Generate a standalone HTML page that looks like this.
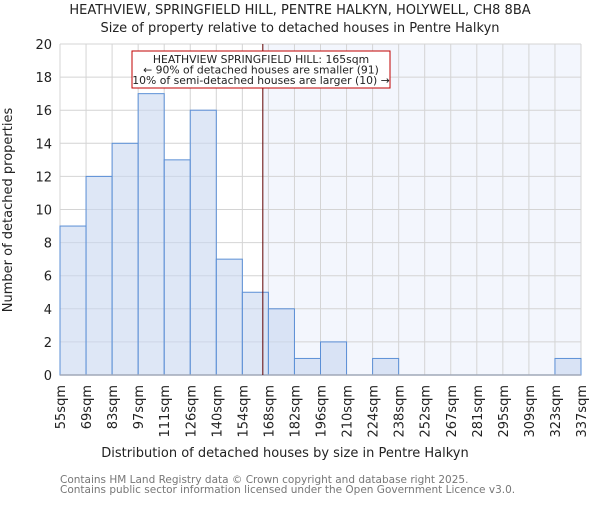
<!DOCTYPE html>
<html><head><meta charset="utf-8"><style>
body{margin:0;background:#fff}
svg text{font-family:"DejaVu Sans","Liberation Sans",sans-serif;fill:#222}
</style></head><body>
<svg id="c" width="600" height="500" xmlns="http://www.w3.org/2000/svg">
<text x="300" y="14" text-anchor="middle" font-size="13">HEATHVIEW, SPRINGFIELD HILL, PENTRE HALKYN, HOLYWELL, CH8 8BA</text>
<text x="300" y="32" text-anchor="middle" font-size="13">Size of property relative to detached houses in Pentre Halkyn</text>
<g id="plot"></g>
<text x="285" y="457" text-anchor="middle" font-size="13">Distribution of detached houses by size in Pentre Halkyn</text>
<text transform="translate(12,210) rotate(-90)" text-anchor="middle" font-size="13">Number of detached properties</text>
<text x="60" y="483" font-size="10.5" style="fill:#777">Contains HM Land Registry data © Crown copyright and database right 2025.</text>
<text x="60" y="493" font-size="10.5" style="fill:#777">Contains public sector information licensed under the Open Government Licence v3.0.</text>
</svg>
<script>
const binLabels=["55sqm","69sqm","83sqm","97sqm","111sqm","126sqm","140sqm","154sqm","168sqm","182sqm","196sqm","210sqm","224sqm","238sqm","252sqm","267sqm","281sqm","295sqm","309sqm","323sqm","337sqm"];
const binEdges=[55,69,83,97,111,126,140,154,168,182,196,210,224,238,252,267,281,295,309,323,337];
const counts=[9,12,14,17,13,16,7,5,4,1,2,0,1,0,0,0,0,0,0,1];
const yTicks=[0,2,4,6,8,10,12,14,16,18,20];
const marker=165;
const X0=60,X1=581,Y0=375,Y1=44,YMAX=20;
const NS="http://www.w3.org/2000/svg";
const g=document.getElementById('plot');
function xi(i){return X0+(X1-X0)*i/counts.length;}
function xv(v){for(let i=0;i<binEdges.length-1;i++){if(v<=binEdges[i+1]){return xi(i)+(xi(i+1)-xi(i))*(v-binEdges[i])/(binEdges[i+1]-binEdges[i]);}}return X1;}
function y(v){return Y0-(Y0-Y1)*v/YMAX;}
function mk(t,a){const e=document.createElementNS(NS,t);for(const k in a)e.setAttribute(k,a[k]);g.appendChild(e);return e;}
const mx=xv(marker);
let e=mk('rect',{x:mx,y:Y1,width:X1-mx,height:Y0-Y1,fill:'#f3f6fd'});


yTicks.forEach(t=>{
 let l=mk('line',{x1:X0,x2:X1,y1:y(t),y2:y(t),stroke:'#d4d4d4','stroke-width':1});
 
 
 let tx=mk('text',{x:X0-8,y:y(t)+5,'text-anchor':'end','font-size':13});
 tx.textContent=t;
 
 
});
binLabels.forEach((s,i)=>{
 let l=mk('line',{x1:xi(i),x2:xi(i),y1:Y1,y2:Y0,stroke:'#d4d4d4','stroke-width':1});
 
 
 let tx=mk('text',{transform:`translate(${xi(i)+5},${Y0+10}) rotate(-90)`,'text-anchor':'end','font-size':13});
 tx.textContent=s;
 
 
});
counts.forEach((c,i)=>{
 if(c<=0)return;
 let r=mk('rect',{x:xi(i),y:y(c),width:xi(i+1)-xi(i),height:Y0-y(c),fill:'rgba(200,215,240,0.6)',stroke:'#5b8fd6','stroke-width':1});
 
 
});
e=mk('line',{x1:X0,x2:X1,y1:Y0,y2:Y0,stroke:'#a0a8b8','stroke-width':1.5});


e=mk('line',{x1:mx,x2:mx,y1:Y1,y2:Y0,stroke:'#600000','stroke-width':1});


e=mk('rect',{x:132,y:51,width:258,height:37,fill:'#fff',stroke:'#c00000','stroke-width':1});


["HEATHVIEW SPRINGFIELD HILL: 165sqm","← 90% of detached houses are smaller (91)","10% of semi-detached houses are larger (10) →"].forEach((s,i)=>{
 let tx=mk('text',{x:261,y:63+i*10.5,'text-anchor':'middle','font-size':10.8});
 tx.textContent=s;
 
 
});
</script>
</body></html>
